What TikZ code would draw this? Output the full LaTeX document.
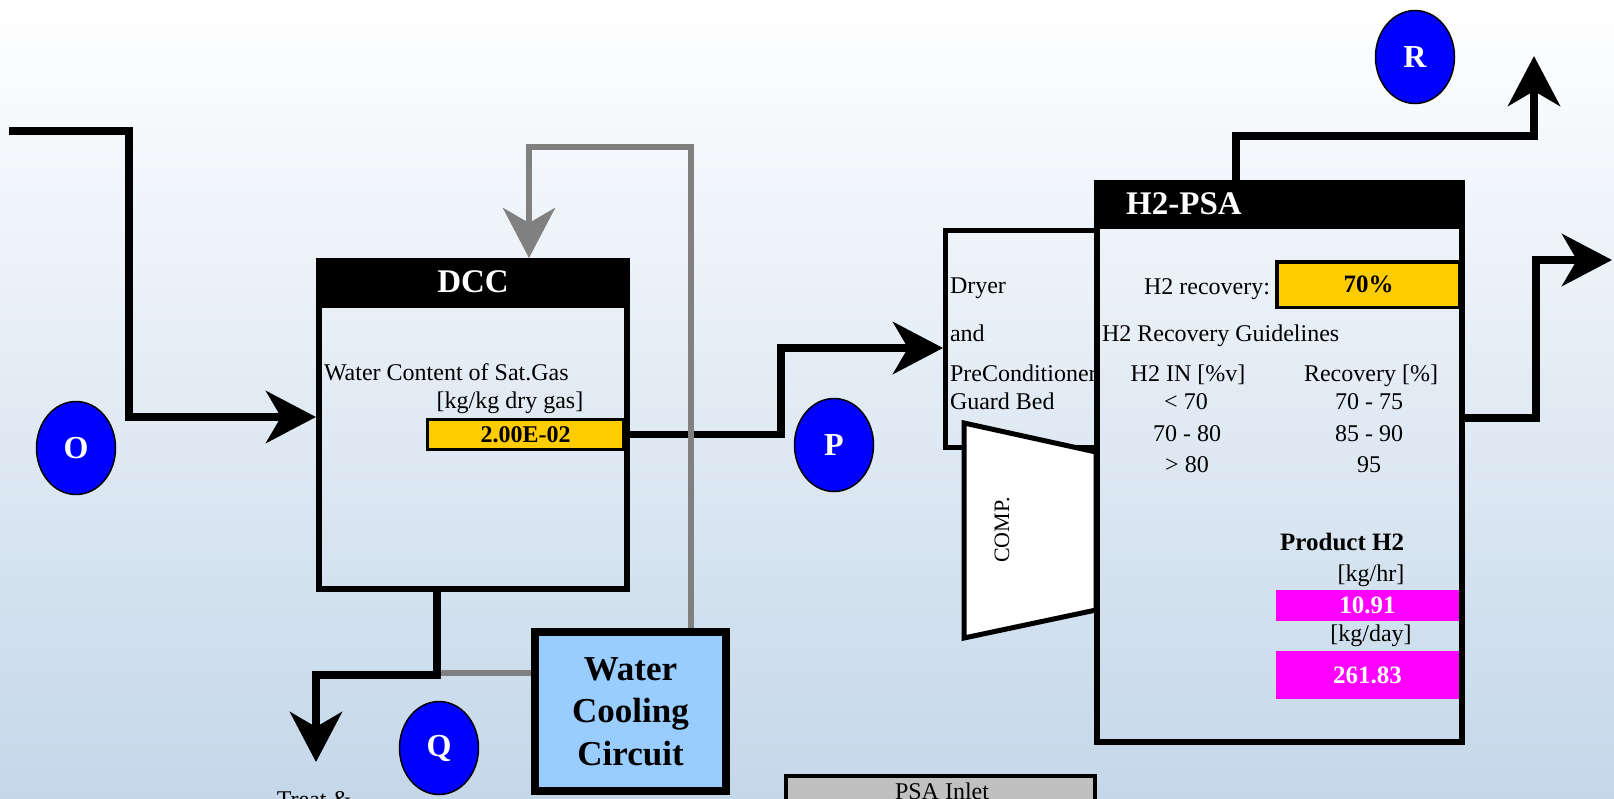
\documentclass[tikz,border=0pt]{standalone}
\usepackage{fontspec}
\setmainfont{Liberation Serif}
\usetikzlibrary{arrows.meta,shapes.geometric}
\definecolor{bgtop}{RGB}{255,255,255}
\definecolor{bgbot}{RGB}{196,215,233}
\definecolor{gold}{RGB}{255,204,0}
\definecolor{magen}{RGB}{255,0,255}
\definecolor{coolblue}{RGB}{153,204,255}
\definecolor{loopgray}{RGB}{128,128,128}
\definecolor{inletgray}{RGB}{192,192,192}
\definecolor{circblue}{RGB}{0,0,255}
\begin{document}
\begin{tikzpicture}[x=1pt,y=-1pt,
  flow/.style={line width=7.5pt,draw=black,-{Stealth[length=50pt,width=52pt,inset=15pt]}},
  gflow/.style={line width=6.5pt,draw=loopgray,-{Stealth[length=50pt,width=52pt,inset=15pt]}},
  gline/.style={line width=6.5pt,draw=loopgray},
  txt/.style={font=\fontsize{24}{28}\selectfont,inner sep=0pt,outer sep=0pt},
  btxt/.style={font=\fontsize{25}{30}\selectfont\bfseries,inner sep=0pt},
  headtxt/.style={font=\fontsize{33}{38}\selectfont\bfseries,text=white,inner sep=0pt},
  circ/.style={ellipse,draw=black,line width=1.5pt,fill=circblue,text=white,
    font=\fontsize{32}{36}\selectfont\bfseries,minimum width=79pt,minimum height=93pt,inner sep=0pt},
  unitbox/.style={draw=black,inner sep=0pt},
  hdr/.style={fill=black,inner sep=0pt,outer sep=0pt},
  valbox/.style={draw=black,line width=3pt,fill=gold,inner sep=0pt,
    font=\fontsize{24}{28}\selectfont\bfseries},
  magbox/.style={fill=magen,inner sep=0pt,text=white,font=\fontsize{25}{30}\selectfont\bfseries}
]
\useasboundingbox (0,0) rectangle (1614,798);
\clip (0,0) rectangle (1614,798);
\shade[top color=bgtop,bottom color=bgbot] (0,0) rectangle (1614,798);

% ---------- DCC ----------
\node[unitbox,line width=6pt,minimum width=308pt,minimum height=328pt] (dcc) at (473,425) {};
\node[hdr,minimum width=314pt,minimum height=50pt] (dcchead) at (473,283) {};
\node[headtxt] (dcctitle) at (473,282) {DCC};
\node[txt,anchor=base west] (wct) at (324,380) {Water Content of Sat.Gas};
\node[txt,anchor=base] (wcu) at (510,408) {[kg/kg dry gas]};
\node[valbox,minimum width=196pt,minimum height=30pt] (wcv) at (525.5,434.5) {2.00E-02};

% ---------- Water cooling circuit ----------
\node[unitbox,line width=8pt,fill=coolblue,minimum width=191pt,minimum height=159pt,
  align=center,font=\fontsize{35}{42.5}\selectfont\bfseries] (wcc) at (630.5,711.5)
  {Water\\Cooling\\Circuit};

% ---------- Dryer / compressor ----------
\node[unitbox,line width=5pt,minimum width=151.5pt,minimum height=217pt] (dryer) at (1021.25,339) {};
\node[txt,anchor=base west] (d1) at (950,293) {Dryer};
\node[txt,anchor=base west] (d2) at (950,341) {and};
\node[txt,anchor=base west] (d3) at (950,381) {PreConditioner};
\node[txt,anchor=base west] (d4) at (950,409) {Guard Bed};
\draw[line width=5pt,fill=white] (964,423) -- (1096,452) -- (1096,610) -- (964,638) -- cycle;
\node[txt,rotate=90,font=\fontsize{22}{26}\selectfont] (comp) at (1002,530) {COMP.};

% ---------- H2-PSA ----------
\node[unitbox,line width=6pt,minimum width=365pt,minimum height=559pt] (psa) at (1279.5,462.5) {};
\node[hdr,minimum width=371pt,minimum height=49pt] (psahead) at (1279.5,204.5) {};
\node[headtxt,anchor=west] (psatitle) at (1126,204) {H2-PSA};
\node[txt,anchor=base east] (rec) at (1270,294) {H2 recovery:};
\node[valbox,line width=3.5pt,font=\fontsize{25}{30}\selectfont\bfseries,
  minimum width=183pt,minimum height=45.5pt] (recv) at (1368.5,284.75) {70\%};
\node[txt,anchor=base west] (guide) at (1102,341) {H2 Recovery Guidelines};
\node[txt,anchor=base] (c1h) at (1188,381) {H2 IN [\%v]};
\node[txt,anchor=base] (c2h) at (1371,381) {Recovery [\%]};
\node[txt,anchor=base] (c1a) at (1186,409) {< 70};
\node[txt,anchor=base] (c2a) at (1369,409) {70 - 75};
\node[txt,anchor=base] (c1b) at (1187,441) {70 - 80};
\node[txt,anchor=base] (c2b) at (1369,441) {85 - 90};
\node[txt,anchor=base] (c1c) at (1187,472) {> 80};
\node[txt,anchor=base] (c2c) at (1369,472) {95};
\node[btxt,anchor=base west] (prod) at (1280,550) {Product H2};
\node[txt,anchor=base] (uhr) at (1371,581) {[kg/hr]};
\node[magbox,minimum width=183pt,minimum height=31pt] (vhr) at (1367.5,605.5) {10.91};
\node[txt,anchor=base] (uday) at (1371,641) {[kg/day]};
\node[magbox,minimum width=183pt,minimum height=48pt] (vday) at (1367.5,675) {261.83};

% ---------- PSA inlet ----------
\node[unitbox,line width=3.5pt,fill=inletgray,minimum width=309pt,minimum height=54pt] (inlet) at (940.5,803) {};
\node[txt,anchor=base] (inlett) at (942,799) {PSA Inlet};

% ---------- stream labels ----------
\node[circ] (O) at (76,448) {O};
\node[circ] (P) at (834,445) {P};
\node[circ] (Q) at (439,748) {Q};
\node[circ] (R) at (1415,57) {R};
\node[txt,anchor=base] (treat) at (314,807) {Treat \&};

% ---------- connectors ----------
\coordinate (in0) at (9,131);
\coordinate (inb) at (129,417);
\draw[flow] (in0) -| (inb) -- (dcc.west |- inb);

\coordinate (pb) at (781,348);
\draw[flow] (wcv.east) -| (pb) -- (dryer.west |- pb);

\coordinate (gH) at (440.5,673);
\draw[gline] (gH) -- (gH -| wcc.west);

\coordinate (oA) at (437,675);
\coordinate (oT) at (316,762);
\draw[flow] (dcc.south -| oA) -- (oA) -| (oT);

\coordinate (gA) at (691,628);
\coordinate (gB) at (529,147);
\draw[gflow] (gA) |- (gB) -- (gB |- dcchead.north);

\coordinate (tA) at (1236,136);
\coordinate (tT) at (1534,56);
\draw[flow] (psahead.north -| tA) -- (tA) -| (tT);

\coordinate (rA) at (1536,418);
\coordinate (rT) at (1612,260);
\draw[flow] (psa.east |- rA) -- (rA) |- (rT);
\end{tikzpicture}
\end{document}
